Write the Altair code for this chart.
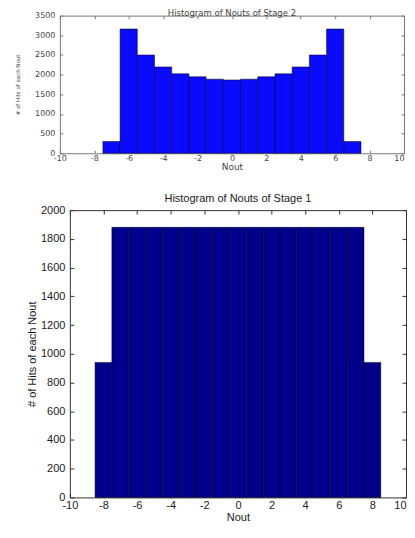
import altair as alt
import pandas as pd

# ---------------- data ----------------
stage2_nout = [-7, -6, -5, -4, -3, -2, -1, 0, 1, 2, 3, 4, 5, 6, 7]
stage2_hits = [300, 3160, 2500, 2195, 2020, 1945, 1885, 1865, 1885, 1945, 2020, 2195, 2500, 3160, 300]

stage1_nout = [-8, -7, -6, -5, -4, -3, -2, -1, 0, 1, 2, 3, 4, 5, 6, 7, 8]
stage1_hits = [940, 1880, 1880, 1880, 1880, 1880, 1880, 1880, 1880, 1880, 1880, 1880, 1880, 1880, 1880, 1880, 940]

x_ticks = [-10, -8, -6, -4, -2, 0, 2, 4, 6, 8, 10]
stage2_y_ticks = [0, 500, 1000, 1500, 2000, 2500, 3000, 3500]
stage1_y_ticks = [0, 200, 400, 600, 800, 1000, 1200, 1400, 1600, 1800, 2000]

stage2_title = "Histogram of Nouts of Stage 2"
stage1_title = "Histogram of Nouts of Stage 1"
x_title = "Nout"
y_title = "# of Hits of each Nout"

PLAIN = "'' + datum.value"


def panel(nout, hits, y_ticks, y_max, width, height, fill, frame, text_color, font,
          label_size, title_text, title_size, title_offset, ytitle_size, xtitle_size,
          x_label_pad, x_title_pad, y_label_pad, y_title_pad, tick_len):
    df = pd.DataFrame({"nout": nout, "hits": hits})
    base = alt.Chart(df).transform_calculate(
        lo="datum.nout - 0.5", hi="datum.nout + 0.5", z="0")
    xs = alt.Scale(domain=[-10, 10], nice=False, zero=False)
    ys = alt.Scale(domain=[0, y_max], nice=False, zero=True)
    common = dict(grid=False, domain=False, tickColor=frame, tickWidth=1)

    last_right = {"condition": {"test": "datum.value == 10", "value": "right"}, "value": "center"}

    x_main = alt.Axis(values=x_ticks, orient="bottom", title=x_title, tickSize=0, labelExpr=PLAIN,
                      labelAlign=last_right,
                      labelFont=font, titleFont=font, labelColor=text_color, titleColor=text_color,
                      labelFontSize=label_size, titleFontSize=xtitle_size, titleFontWeight="normal",
                      labelPadding=x_label_pad, titlePadding=x_title_pad, **common)
    y_main = alt.Axis(values=y_ticks, orient="left", title=y_title, tickSize=0, labelExpr=PLAIN,
                      labelFont=font, titleFont=font, labelColor=text_color, titleColor=text_color,
                      labelFontSize=label_size, titleFontSize=ytitle_size, titleFontWeight="normal",
                      labelPadding=y_label_pad, titlePadding=y_title_pad, **common)

    bars = base.mark_bar(color=fill, stroke="black", strokeWidth=0.7, strokeOpacity=0.7).encode(
        x=alt.X("lo:Q", scale=xs, axis=x_main),
        x2="hi:Q",
        y=alt.Y("hits:Q", scale=ys, axis=y_main),
        y2="z:Q",
    )
    # inward ticks on the bottom edge and the left edge
    ticks_a = base.mark_bar(opacity=0).encode(
        x=alt.X("lo:Q", scale=xs, axis=alt.Axis(values=x_ticks, orient="top", offset=-height,
                                                 labels=False, title=None, tickSize=tick_len, **common)),
        x2="hi:Q",
        y=alt.Y("hits:Q", scale=ys, axis=alt.Axis(values=y_ticks, orient="right", offset=-width,
                                                   labels=False, title=None, tickSize=tick_len, **common)),
        y2="z:Q",
    )
    # inward ticks on the top edge and the right edge
    ticks_b = base.mark_bar(opacity=0).encode(
        x=alt.X("lo:Q", scale=xs, axis=alt.Axis(values=x_ticks, orient="bottom", offset=-height,
                                                 labels=False, title=None, tickSize=tick_len, **common)),
        x2="hi:Q",
        y=alt.Y("hits:Q", scale=ys, axis=alt.Axis(values=y_ticks, orient="left", offset=-width,
                                                   labels=False, title=None, tickSize=tick_len, **common)),
        y2="z:Q",
    )
    return alt.layer(bars, ticks_a, ticks_b).resolve_scale(x="independent", y="independent").properties(
        width=width, height=height,
        view=alt.ViewBackground(stroke=frame, strokeWidth=1),
        title=alt.TitleParams(title_text, font=font, fontSize=title_size, fontWeight="normal",
                              color=text_color, offset=title_offset, anchor="middle",
                              baseline="top"),
    )


top = panel(stage2_nout, stage2_hits, stage2_y_ticks, 3500, 345, 138, "#0a0aff", "#777777", "#444444",
            "DejaVu Sans", 8, stage2_title, 8.5, -6, 5.5, 9, 1, 0, 5, 14, 3)

bottom = panel(stage1_nout, stage1_hits, stage1_y_ticks, 2000, 337, 288, "#00008c", "#333333", "#1a1a1a",
               "Liberation Sans", 11, stage1_title, 11, 0, 11, 11, 2, 1, 5, 3, 4)

# invisible 10px spacer so that the lower plot starts 10px to the right of the upper one
spacer = alt.Chart(pd.DataFrame({"v": [0]})).mark_point(opacity=0).properties(
    width=10, height=40, view=alt.ViewBackground(stroke="transparent"))

bottom_row = alt.hconcat(spacer, bottom, spacing=0, bounds="flush")

chart = alt.vconcat(top, bottom_row, spacing=20).properties(
    padding={"left": 7, "top": 0, "right": 0, "bottom": -2}
).configure_view(stroke="transparent")

chart.save("out.html", embed_options={"renderer": "svg", "actions": False})
